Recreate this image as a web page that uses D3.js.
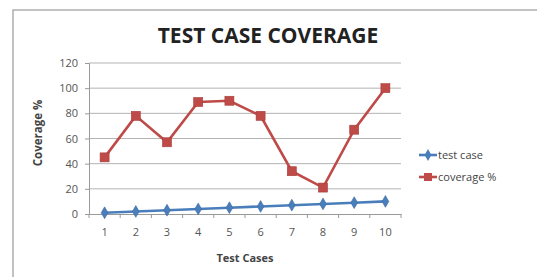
<!DOCTYPE html>
<html lang="en">
<head>
    <meta charset="UTF-8">
    <title>Test Case Coverage</title>
    <script src="https://d3js.org/d3.v7.min.js"></script>
    <style>
        body { margin: 0; background: #fff; }
        .axis text { font-family: "Open Sans", "DejaVu Sans", sans-serif; font-size: 11px; fill: #555; }
        .axis path, .axis line { stroke: #999; }
    </style>
</head>
<body>
    <div id="chart"></div>
    <script>
        // data
        const cases = [1, 2, 3, 4, 5, 6, 7, 8, 9, 10];
        const testCase = [1, 2, 3, 4, 5, 6, 7, 8, 9, 10];
        const coverage = [45, 78, 57, 89, 90, 78, 34, 21, 67, 100];
        const yTicks = [0, 20, 40, 60, 80, 100, 120];
        const seriesNames = ["test case", "coverage %"];
        const seriesColors = ["#4a7ebb", "#be4b48"];

        const W = 537, H = 277;
        const plot = { left: 89, right: 401, top: 63, bottom: 214 };
        const font = "'Open Sans', 'DejaVu Sans', sans-serif";

        const svg = d3.select("#chart").append("svg")
            .attr("width", W)
            .attr("height", H);

        // outer chart frame
        svg.append("rect")
            .attr("x", 13).attr("y", 10)
            .attr("width", 560).attr("height", 300)
            .attr("fill", "#fff")
            .attr("stroke", "#9a9a9a")
            .attr("stroke-width", 1.2);

        const x = d3.scaleBand()
            .domain(cases)
            .range([plot.left, plot.right]);

        const y = d3.scaleLinear()
            .domain([0, 120])
            .range([plot.bottom, plot.top]);

        // gridlines
        svg.append("g")
            .selectAll("line")
            .data(yTicks.filter(d => d > 0))
            .join("line")
            .attr("x1", plot.left).attr("x2", plot.right)
            .attr("y1", d => y(d)).attr("y2", d => y(d))
            .attr("stroke", "#b4b4b4")
            .attr("stroke-width", 1);

        // y axis
        svg.append("g")
            .attr("class", "axis")
            .attr("transform", `translate(${plot.left},0)`)
            .call(d3.axisLeft(y).tickValues(yTicks).tickSize(4).tickPadding(7))
            .call(g => g.select(".domain").attr("stroke", "#999"));

        // x axis, ticks at band boundaries like Excel
        const xAxis = svg.append("g")
            .attr("class", "axis")
            .attr("transform", `translate(0,${plot.bottom})`)
            .call(d3.axisBottom(x).tickSize(0).tickPadding(14));
        xAxis.selectAll(".bound")
            .data(cases.concat([null]))
            .join("line")
            .attr("class", "bound")
            .attr("x1", (d, i) => plot.left + i * x.bandwidth())
            .attr("x2", (d, i) => plot.left + i * x.bandwidth())
            .attr("y1", 0).attr("y2", 4)
            .attr("stroke", "#999");

        // series
        const seriesData = [testCase, coverage];
        const line = d3.line()
            .x((d, i) => x(cases[i]) + x.bandwidth() / 2)
            .y(d => y(d));

        seriesData.forEach((vals, s) => {
            svg.append("path")
                .datum(vals)
                .attr("fill", "none")
                .attr("stroke", seriesColors[s])
                .attr("stroke-width", 2.6)
                .attr("d", line);
        });

        // markers
        const diamond = d3.symbol().type(d3.symbolDiamond).size(40);
        svg.append("g")
            .selectAll("path")
            .data(testCase)
            .join("path")
            .attr("d", diamond)
            .attr("transform", (d, i) => `translate(${x(cases[i]) + x.bandwidth() / 2},${y(d)})`)
            .attr("fill", seriesColors[0])
            .attr("stroke", "#3a6aa5")
            .attr("stroke-width", 0.6);

        svg.append("g")
            .selectAll("rect")
            .data(coverage)
            .join("rect")
            .attr("x", (d, i) => x(cases[i]) + x.bandwidth() / 2 - 4.5)
            .attr("y", d => y(d) - 4.5)
            .attr("width", 9).attr("height", 9)
            .attr("fill", seriesColors[1])
            .attr("stroke", "#a83e3b")
            .attr("stroke-width", 0.6);

        // title
        svg.append("text")
            .attr("x", 268).attr("y", 43)
            .attr("text-anchor", "middle")
            .attr("font-family", font)
            .attr("font-weight", "bold")
            .attr("font-size", 21)
            .attr("fill", "#222")
            .text("TEST CASE COVERAGE");

        // axis titles
        svg.append("text")
            .attr("x", 245).attr("y", 262)
            .attr("text-anchor", "middle")
            .attr("font-family", font)
            .attr("font-weight", "bold")
            .attr("font-size", 11)
            .attr("fill", "#444")
            .text("Test Cases");

        svg.append("text")
            .attr("transform", "translate(42,133) rotate(-90)")
            .attr("text-anchor", "middle")
            .attr("font-family", font)
            .attr("font-weight", "bold")
            .attr("font-size", 11.5)
            .attr("fill", "#444")
            .text("Coverage %");

        // legend
        const legend = svg.append("g").attr("transform", "translate(419,155)");
        seriesNames.forEach((name, s) => {
            const g = legend.append("g").attr("transform", `translate(0,${s * 22})`);
            g.append("line")
                .attr("x1", 0).attr("x2", 18)
                .attr("stroke", seriesColors[s])
                .attr("stroke-width", 2.6);
            if (s === 0) {
                g.append("path")
                    .attr("d", diamond)
                    .attr("transform", "translate(9,0)")
                    .attr("fill", seriesColors[0]);
            } else {
                g.append("rect")
                    .attr("x", 5).attr("y", -4)
                    .attr("width", 8).attr("height", 8)
                    .attr("fill", seriesColors[1]);
            }
            g.append("text")
                .attr("x", 19).attr("y", 4)
                .attr("font-family", font)
                .attr("font-size", 11)
                .attr("fill", "#444")
                .text(name);
        });
    </script>
</body>
</html>
